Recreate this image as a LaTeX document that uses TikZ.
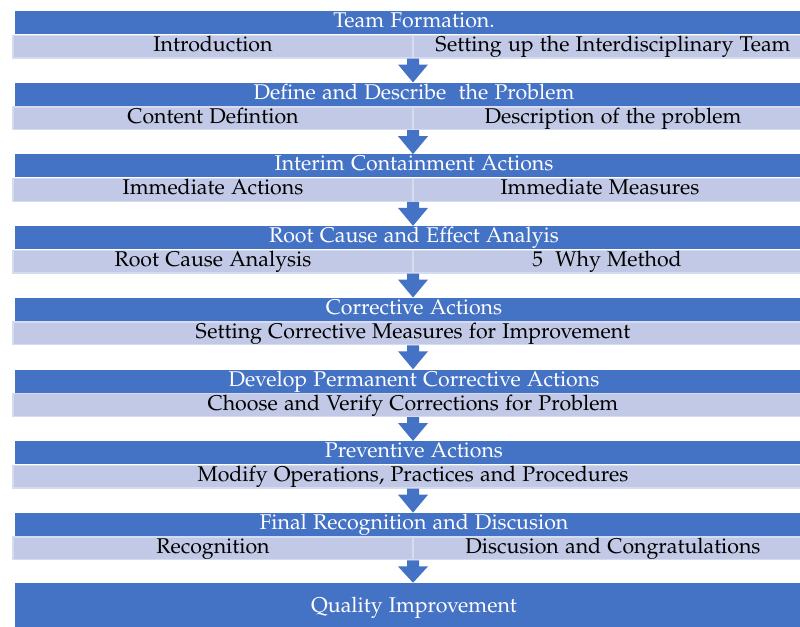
\documentclass[tikz,border=0pt]{standalone}
\usepackage[T1]{fontenc}
\usepackage[sc]{mathpazo}
\usepackage{tikz}
\usetikzlibrary{positioning,calc}
\definecolor{headblue}{RGB}{68,114,196}
\definecolor{barblue}{RGB}{193,201,230}
\definecolor{baredge}{RGB}{214,220,240}
\tikzset{
	hdrbar/.style={fill=headblue, text=white, minimum width=598.5pt, minimum height=17.25pt, inner sep=0pt, font=\fontsize{16}{19}\selectfont, text height=11pt, text depth=3.5pt},
	subbar/.style={fill=barblue, draw=baredge, line width=1pt, minimum width=600pt, minimum height=17pt, inner sep=0pt, font=\fontsize{16}{19}\selectfont, text height=11pt, text depth=3.5pt},
	subtext/.style={text=black, inner sep=0pt, font=\fontsize{16}{19}\selectfont, text height=11pt, text depth=3.5pt},
	splitline/.style={draw=baredge, line width=1.5pt}
}
% block arrow from bar #1 down to header #2
\newcommand{\stagearrow}[2]{%
	\fill[headblue] ($(#1.south)+(-6,0)$) -- ($(#1.south)+(6,0)$) -- ($(#1.south)+(6,6)$) -- ($(#1.south)+(15,6)$)
	-- (#1.south |- #2.north) -- ($(#1.south)+(-15,6)$) -- ($(#1.south)+(-6,6)$) -- cycle;}

\begin{document}
\begin{tikzpicture}[x=0.75pt,y=-0.75pt]
	\clip (0,0) rectangle (800,626);
	
	% stage 1
	\node[hdrbar] (h1) at (414,22.5) {Team Formation.};
	\node[subbar] (s1) at (413,46.5) {};
	\draw[splitline] (s1.north) -- (s1.south);
	\node[subtext] (s1l) at (213,46.5) {Introduction};
	\node[subtext] (s1r) at (613,46.5) {Setting up the Interdisciplinary Team};
	
	% stage 2
	\node[hdrbar] (h2) at (414,94.2) {Define and Describe\ \ the Problem};
	\node[subbar] (s2) at (413,118.2) {};
	\draw[splitline] (s2.north) -- (s2.south);
	\node[subtext] (s2l) at (213,118.2) {Content Defintion};
	\node[subtext] (s2r) at (613,118.2) {Description of the problem};
	
	% stage 3
	\node[hdrbar] (h3) at (414,165.9) {Interim Containment Actions};
	\node[subbar] (s3) at (413,189.9) {};
	\draw[splitline] (s3.north) -- (s3.south);
	\node[subtext] (s3l) at (213,189.9) {Immediate Actions};
	\node[subtext] (s3r) at (600,189.9) {Immediate Measures};
	
	% stage 4
	\node[hdrbar] (h4) at (414,237.6) {Root Cause and Effect Analyis};
	\node[subbar] (s4) at (413,261.6) {};
	\draw[splitline] (s4.north) -- (s4.south);
	\node[subtext] (s4l) at (213,261.6) {Root Cause Analysis};
	\node[subtext] (s4r) at (607,261.6) {5\ \ Why Method};
	
	% stage 5
	\node[hdrbar] (h5) at (414,309.3) {Corrective Actions};
	\node[subbar] (s5) at (413,333.3) {Setting Corrective Measures for Improvement};
	
	% stage 6
	\node[hdrbar] (h6) at (414,381) {Develop Permanent Corrective Actions};
	\node[subbar] (s6) at (413,405) {Choose and Verify Corrections for Problem};
	
	% stage 7
	\node[hdrbar] (h7) at (414,452.7) {Preventive Actions};
	\node[subbar] (s7) at (413,476.7) {Modify Operations, Practices and Procedures};
	
	% stage 8
	\node[hdrbar] (h8) at (414,524.4) {Final Recognition and Discusion};
	\node[subbar] (s8) at (413,548.4) {};
	\draw[splitline] (s8.north) -- (s8.south);
	\node[subtext] (s8l) at (213,548.4) {Recognition};
	\node[subtext] (s8r) at (613,548.4) {Discusion and Congratulations};
	
	% result
	\node[hdrbar, minimum height=36pt] (q) at (414,607) {Quality Improvement};
	
	%%% arrows
	\stagearrow{s1}{h2}
	\stagearrow{s2}{h3}
	\stagearrow{s3}{h4}
	\stagearrow{s4}{h5}
	\stagearrow{s5}{h6}
	\stagearrow{s6}{h7}
	\stagearrow{s7}{h8}
	\stagearrow{s8}{q}
	
\end{tikzpicture}
\end{document}
